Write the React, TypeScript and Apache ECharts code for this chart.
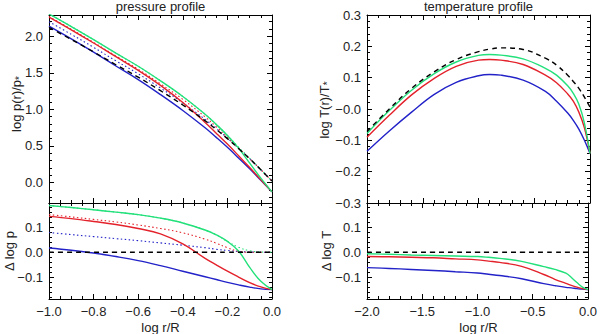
import React, { useEffect, useRef } from "react";
import * as echarts from "echarts";

// ---------- pressure profile (x = log r/R) ----------
const pX = [-1.0, -0.9, -0.8, -0.7, -0.6, -0.5, -0.4, -0.3, -0.25, -0.2, -0.15, -0.1, -0.05, 0.0];
const pRef = [2.12, 1.955, 1.785, 1.61, 1.44, 1.255, 1.06, 0.845, 0.725, 0.6, 0.465, 0.325, 0.175, 0.02];
const pGreen = [2.305, 2.132, 1.953, 1.769, 1.589, 1.39, 1.176, 0.933, 0.794, 0.643, 0.47, 0.265, 0.06, -0.128];
const pGreenDot = [2.305, 2.132, 1.953, 1.769, 1.589, 1.39, 1.176, 0.933, 0.794, 0.643, 0.485, 0.331, 0.176, 0.02];
const pRed = [2.262, 2.088, 1.907, 1.72, 1.534, 1.328, 1.093, 0.821, 0.675, 0.525, 0.367, 0.205, 0.038, -0.128];
const pRedDot = [2.269, 2.095, 1.915, 1.73, 1.548, 1.349, 1.137, 0.897, 0.761, 0.618, 0.469, 0.325, 0.175, 0.02];
const pBlueDot = [2.198, 2.025, 1.847, 1.664, 1.486, 1.292, 1.088, 0.863, 0.737, 0.607, 0.468, 0.326, 0.175, 0.02];
const pBlue = [2.137, 1.963, 1.782, 1.593, 1.407, 1.202, 0.985, 0.748, 0.617, 0.481, 0.336, 0.187, 0.03, -0.128];

const dpRef = [0, 0, 0, 0, 0, 0, 0, 0, 0, 0, 0, 0, 0, 0];
const dpGreen = [0.185, 0.177, 0.168, 0.159, 0.149, 0.135, 0.116, 0.088, 0.069, 0.043, 0.005, -0.06, -0.115, -0.148];
const dpGreenDot = [0.185, 0.177, 0.168, 0.159, 0.149, 0.135, 0.116, 0.088, 0.069, 0.043, 0.02, 0.006, 0.001, 0.0];
const dpRed = [0.142, 0.133, 0.122, 0.11, 0.094, 0.073, 0.033, -0.024, -0.05, -0.075, -0.098, -0.12, -0.137, -0.148];
const dpRedDot = [0.149, 0.14, 0.13, 0.12, 0.108, 0.094, 0.077, 0.052, 0.036, 0.018, 0.004, 0.0, 0.0, 0.0];
const dpBlueDot = [0.078, 0.07, 0.062, 0.054, 0.046, 0.037, 0.028, 0.018, 0.012, 0.007, 0.003, 0.001, 0.0, 0.0];
const dpBlue = [0.017, 0.008, -0.003, -0.017, -0.033, -0.053, -0.075, -0.097, -0.108, -0.119, -0.129, -0.138, -0.145, -0.148];

// ---------- temperature profile (x = log r/R) ----------
const tX = [-2.0, -1.8, -1.6, -1.4, -1.2, -1.0, -0.9, -0.8, -0.6, -0.4, -0.3, -0.2, -0.15, -0.1, -0.05, 0.0];
const tRef = [-0.072, 0.0, 0.066, 0.118, 0.158, 0.183, 0.191, 0.195, 0.19, 0.162, 0.14, 0.108, 0.088, 0.066, 0.038, 0.006];
const tGreen = [-0.078, -0.005, 0.06, 0.112, 0.15, 0.171, 0.174, 0.172, 0.16, 0.13, 0.108, 0.074, 0.05, 0.015, -0.045, -0.142];
const tRed = [-0.09, -0.02, 0.045, 0.097, 0.136, 0.156, 0.158, 0.156, 0.142, 0.108, 0.084, 0.048, 0.025, -0.01, -0.06, -0.142];
const tBlue = [-0.135, -0.07, -0.01, 0.046, 0.085, 0.106, 0.11, 0.108, 0.092, 0.056, 0.025, -0.013, -0.036, -0.064, -0.1, -0.142];

const dtRef = [0, 0, 0, 0, 0, 0, 0, 0, 0, 0, 0, 0, 0, 0, 0, 0];
const dtGreen = [-0.006, -0.008, -0.011, -0.013, -0.015, -0.017, -0.02, -0.024, -0.036, -0.057, -0.068, -0.083, -0.1, -0.12, -0.138, -0.148];
const dtRed = [-0.017, -0.018, -0.02, -0.022, -0.026, -0.03, -0.035, -0.04, -0.056, -0.088, -0.107, -0.123, -0.131, -0.138, -0.144, -0.148];
const dtBlue = [-0.061, -0.064, -0.068, -0.072, -0.077, -0.082, -0.087, -0.092, -0.105, -0.124, -0.132, -0.139, -0.141, -0.144, -0.146, -0.148];

const GREEN = "#22e07a";
const RED = "#e3222b";
const BLUE = "#2222c8";
const BLACK = "#000000";
const TXT = "#222222";
const FONT = "Liberation Sans, Arial, sans-serif";

const pair = (xs: number[], ys: number[]) => xs.map((x, i) => [x, ys[i]]);
const minus = (s: string) => s.replace("-", "\u2212");
const stepFmt = (step: number, zeroNeg = false) => (v: number) => {
  const r = v / step;
  if (Math.abs(r - Math.round(r)) > 1e-6) return "";
  if (Math.abs(v) < 1e-9) return zeroNeg ? "\u22120.0" : "0.0";
  return minus(v.toFixed(1));
};

export default function App() {
  const ref = useRef<HTMLDivElement>(null);
  useEffect(() => {
    document.body.style.margin = "0";
    if (!ref.current) return;
    const chart = echarts.init(ref.current, null, { renderer: "svg" });

    const grids = [
      { left: 49, top: 15, width: 223, height: 188 },
      { left: 49, top: 203, width: 223, height: 96 },
      { left: 367, top: 15, width: 223, height: 188 },
      { left: 367, top: 203, width: 223, height: 96 },
    ];

    const common = (minorSplit: number) => ({
      type: "value",
      axisLine: { show: true, onZero: false, lineStyle: { color: BLACK, width: 1 } },
      splitLine: { show: false },
      axisTick: { show: true, inside: true, length: 5, lineStyle: { color: BLACK, width: 1 } },
      minorTick: { show: true, splitNumber: minorSplit, length: 3, lineStyle: { color: BLACK, width: 1 } },
      axisLabel: { show: false },
    });
    const label = (fmt: (v: number) => string) => ({
      show: true,
      color: TXT,
      fontFamily: FONT,
      fontSize: 13,
      margin: 6,
      formatter: fmt,
      showMinLabel: true,
      showMaxLabel: true,
    });

    const xDefs = [
      { g: 0, min: -1, max: 0, interval: 0.2, minor: 4, pos: "bottom", lab: false },
      { g: 0, min: -1, max: 0, interval: 0.2, minor: 4, pos: "top", lab: false },
      { g: 1, min: -1, max: 0, interval: 0.2, minor: 4, pos: "bottom", lab: true },
      { g: 1, min: -1, max: 0, interval: 0.2, minor: 4, pos: "top", lab: false },
      { g: 2, min: -2, max: 0, interval: 0.5, minor: 5, pos: "bottom", lab: false },
      { g: 2, min: -2, max: 0, interval: 0.5, minor: 5, pos: "top", lab: false },
      { g: 3, min: -2, max: 0, interval: 0.5, minor: 5, pos: "bottom", lab: true },
      { g: 3, min: -2, max: 0, interval: 0.5, minor: 5, pos: "top", lab: false },
    ];
    const xAxis = xDefs.map((d) => ({
      ...common(d.minor),
      gridIndex: d.g,
      position: d.pos,
      min: d.min,
      max: d.max,
      interval: d.interval,
      axisLabel: d.lab ? label(stepFmt(d.interval)) : { show: false },
    }));

    const yDefs: any[] = [
      { g: 0, min: -0.28, max: 2.29, split: 5, step: 0.5, minor: 5, pos: "left", lab: true },
      { g: 0, min: -0.28, max: 2.29, split: 5, step: 0.5, minor: 5, pos: "right", lab: false },
      { g: 1, min: -0.185, max: 0.195, split: 4, step: 0.1, minor: 5, pos: "left", lab: true },
      { g: 1, min: -0.185, max: 0.195, split: 4, step: 0.1, minor: 5, pos: "right", lab: false },
      { g: 2, min: -0.3, max: 0.3, interval: 0.1, step: 0.1, minor: 5, pos: "left", lab: true, zeroNeg: true },
      { g: 2, min: -0.3, max: 0.3, interval: 0.1, step: 0.1, minor: 5, pos: "right", lab: false },
      { g: 3, min: -0.185, max: 0.195, split: 4, step: 0.1, minor: 5, pos: "left", lab: true },
      { g: 3, min: -0.185, max: 0.195, split: 4, step: 0.1, minor: 5, pos: "right", lab: false },
    ];
    const yAxis = yDefs.map((d) => {
      const a: any = {
        ...common(d.minor),
        gridIndex: d.g,
        position: d.pos,
        min: d.min,
        max: d.max,
        axisLabel: d.lab ? label(stepFmt(d.step, !!d.zeroNeg)) : { show: false },
      };
      if (d.interval) a.interval = d.interval;
      else a.splitNumber = d.split;
      return a;
    });

    const line = (
      name: string,
      axis: number,
      xs: number[],
      ys: number[],
      color: string,
      kind: "solid" | "dot" | "dash"
    ) => ({
      name,
      type: "line",
      xAxisIndex: axis,
      yAxisIndex: axis,
      data: pair(xs, ys),
      showSymbol: false,
      symbol: "none",
      smooth: 0.4,
      clip: true,
      lineStyle: {
        color,
        width: kind === "solid" ? 1.4 : kind === "dash" ? 1.4 : 1.1,
        type: kind === "solid" ? "solid" : kind === "dash" ? [5, 4] : [1.5, 2.5],
      },
      z: kind === "dash" ? 3 : 2,
    });

    const series = [
      // pressure
      line("p ref", 0, pX, pRef, BLACK, "dash"),
      line("p blue dotted", 0, pX, pBlueDot, BLUE, "dot"),
      line("p red dotted", 0, pX, pRedDot, RED, "dot"),
      line("p green dotted", 0, pX, pGreenDot, GREEN, "dot"),
      line("p blue", 0, pX, pBlue, BLUE, "solid"),
      line("p red", 0, pX, pRed, RED, "solid"),
      line("p green", 0, pX, pGreen, GREEN, "solid"),
      line("dp blue dotted", 2, pX, dpBlueDot, BLUE, "dot"),
      line("dp red dotted", 2, pX, dpRedDot, RED, "dot"),
      line("dp green dotted", 2, pX, dpGreenDot, GREEN, "dot"),
      line("dp blue", 2, pX, dpBlue, BLUE, "solid"),
      line("dp red", 2, pX, dpRed, RED, "solid"),
      line("dp green", 2, pX, dpGreen, GREEN, "solid"),
      line("dp ref", 2, pX, dpRef, BLACK, "dash"),
      // temperature
      line("T ref", 4, tX, tRef, BLACK, "dash"),
      line("T blue", 4, tX, tBlue, BLUE, "solid"),
      line("T red", 4, tX, tRed, RED, "solid"),
      line("T green", 4, tX, tGreen, GREEN, "solid"),
      line("dT blue", 6, tX, dtBlue, BLUE, "solid"),
      line("dT red", 6, tX, dtRed, RED, "solid"),
      line("dT green", 6, tX, dtGreen, GREEN, "solid"),
      line("dT ref", 6, tX, dtRef, BLACK, "dash"),
    ];

    const txt = (text: string, x: number, y: number, rot = 0, rich?: any) => ({
      type: "text",
      x,
      y,
      rotation: rot,
      style: {
        text,
        fill: TXT,
        fontSize: 13,
        fontFamily: FONT,
        align: "center",
        verticalAlign: "middle",
        rich,
      },
    });
    const subRich = {
      a: { fontSize: 13, fontFamily: FONT, fill: TXT },
      b: { fontSize: 10, fontFamily: FONT, fill: TXT, verticalAlign: "bottom", padding: [6, 0, 0, 0] },
    };

    chart.setOption({
      animation: false,
      backgroundColor: "#ffffff",
      grid: grids,
      xAxis,
      yAxis,
      series,
      graphic: [
        txt("pressure profile", 160.5, 6),
        txt("temperature profile", 478.5, 6),
        txt("log r/R", 160.5, 327),
        txt("log r/R", 478.5, 327),
        txt("{a|log p(r)/p}{b|*}", 16, 104, Math.PI / 2, subRich),
        txt("\u0394 log p", 9, 251, Math.PI / 2),
        txt("{a|log T(r)/T}{b|*}", 324, 110, Math.PI / 2, subRich),
        txt("\u0394 log T", 326, 251, Math.PI / 2),
      ],
    });
    return () => chart.dispose();
  }, []);
  return <div ref={ref} style={{ width: 600, height: 334 }} />;
}
